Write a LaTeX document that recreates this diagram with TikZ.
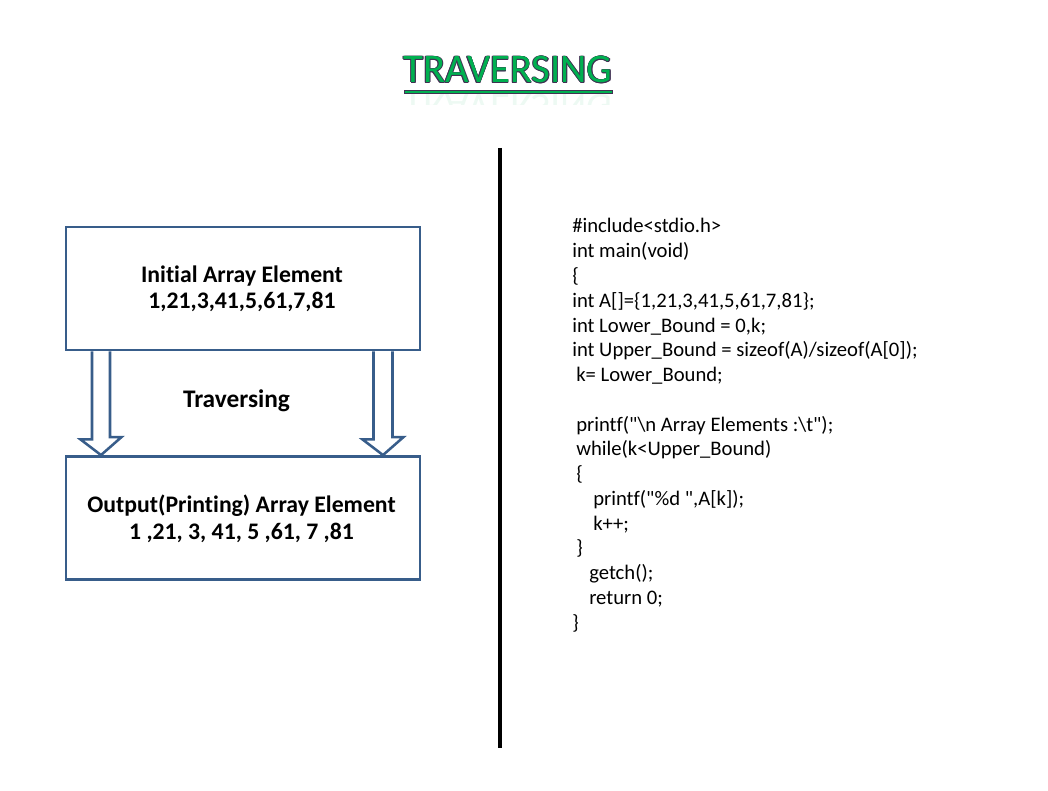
\documentclass[tikz,border=0pt]{standalone}
\usepackage{fontspec}
\setmainfont{Carlito}[Ligatures={NoCommon}]
\newfontfamily\codefont{Carlito}[Ligatures={NoCommon}]
\usetikzlibrary{calc}
\definecolor{boxblue}{RGB}{56,93,138}
\definecolor{titlegreen}{RGB}{0,176,80}
\definecolor{titleedge}{RGB}{64,49,82}
\tikzset{
  box/.style={draw=boxblue, line width=1.9pt, minimum width=265.5pt, minimum height=92.5pt, inner sep=0pt},
  boxtext/.style={anchor=base, inner sep=0pt, font=\fontsize{17.8}{20}\selectfont\bfseries},
  blockarrow/.style={draw=boxblue, fill=white, line width=1.9pt, line join=miter},
  codeline/.style={anchor=base west, inner sep=0pt, font=\codefont\fontsize{15.5}{18}\selectfont},
  titletxt/.style={anchor=base, inner sep=0pt, font=\fontsize{30.5}{33}\selectfont},
}
\begin{document}
\begin{tikzpicture}[x=0.75pt,y=-0.75pt]
\useasboundingbox (0,0) rectangle (1048,791);
% title
\coordinate (tpos) at (508,83);
\begin{scope}
\clip (390,94) rectangle (630,105);
\node[titletxt, yscale=-1, text=titlegreen, opacity=0.07] (trefl) at (508,95) {TRAVERSING};
\end{scope}
\foreach \a [count=\i] in {0,45,...,315}
  \node[titletxt, text=titleedge] (tedge\i) at ($(tpos)+(\a:0.7)$) {TRAVERSING};
\node[titletxt, text=titlegreen] (title) at (tpos) {TRAVERSING};
\draw[titleedge, fill=titlegreen, line width=0.5pt] (404,90.5) rectangle (612,93.5);
% divider
\coordinate (vtop) at (500,148);
\coordinate (vbot) at (500,748);
\draw[black, line width=2.3pt] (vtop) -- (vbot);
% boxes
\node[box] (b1) at (243,288.5) {};
\node[box] (b2) at (243,518) {};
\node[boxtext] (b1a) at (242,282) {Initial Array Element};
\node[boxtext] (b1b) at (242,309) {1,21,3,41,5,61,7,81};
\node[boxtext] (b2a) at (241.5,512) {Output(Printing) Array Element};
\node[boxtext] (b2b) at (241.5,539) {1 ,21, 3, 41, 5 ,61, 7 ,81};
% arrows
\foreach \dx/\hw in {-142/9, 140/9.5}{
  \draw[blockarrow] ($(b1.south)+(\dx-\hw,0)$) -- ++(0,88) -- ++(\hw-20.5,0)
     -- ($(b2.north)+(\dx,0)$) -- ++(20.5,-18) -- ++(\hw-20.5,0) -- ($(b1.south)+(\dx+\hw,0)$);
}
\node[anchor=base, inner sep=0pt, font=\fontsize{19}{22}\selectfont\bfseries] (trav) at (236.5,407) {Traversing};
% code
\node[codeline] (c0) at (572,233) {\#include<stdio.h>};
\node[codeline] (c1) at (572,257.75) {int main(void)};
\node[codeline] (c2) at (572,282.5) {\{};
\node[codeline] (c3) at (572,307.25) {int A[]=\{1,21,3,41,5,61,7,81\};};
\node[codeline] (c4) at (572,332) {int Lower\_Bound = 0,k;};
\node[codeline] (c5) at (572,356.75) {int Upper\_Bound = sizeof(A)/sizeof(A[0]);};
\node[codeline] (c6) at (576,381.5) {k= Lower\_Bound;};
\node[codeline] (c8) at (576,431) {printf("\textbackslash n Array Elements :\textbackslash t");};
\node[codeline] (c9) at (576,455.75) {while(k<Upper\_Bound)};
\node[codeline] (c10) at (576,480.5) {\{};
\node[codeline] (c11) at (593,505.25) {printf("\%d ",A[k]);};
\node[codeline] (c12) at (593,530) {k++;};
\node[codeline] (c13) at (576,554.75) {\}};
\node[codeline] (c14) at (589,579.5) {getch();};
\node[codeline] (c15) at (589,604.25) {return 0;};
\node[codeline] (c16) at (572,629) {\}};
\end{tikzpicture}
\end{document}
